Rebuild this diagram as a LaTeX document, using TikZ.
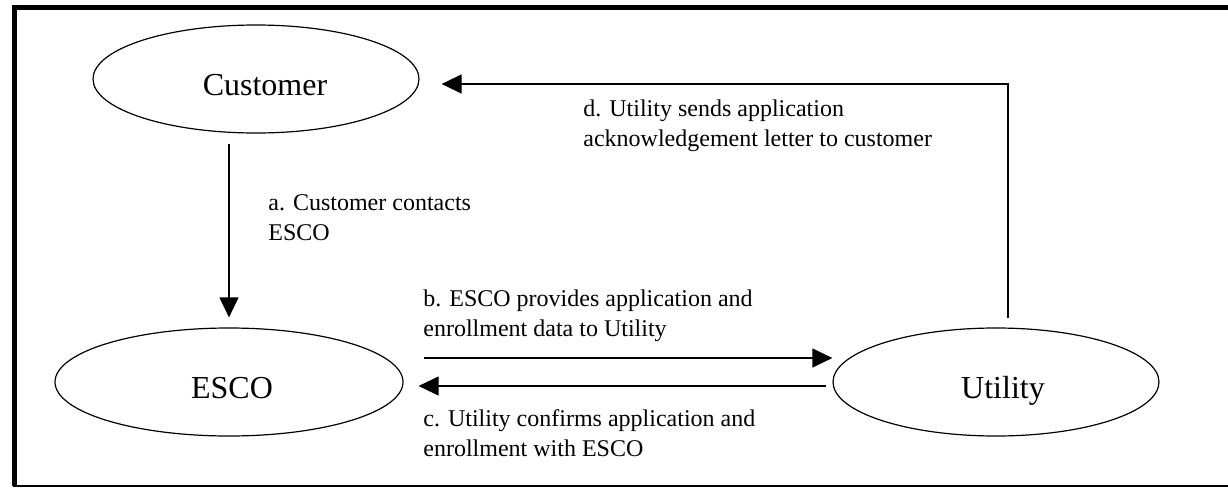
\documentclass[tikz,border=0pt]{standalone}
\usepackage{fontspec}
\setmainfont{Liberation Serif}
\usetikzlibrary{positioning, arrows.meta, shapes.geometric}

\tikzset{
  party/.style={draw, ellipse, line width=0.6pt, inner sep=0pt,
    minimum width=163pt, minimum height=54pt, text height=16pt, text depth=0pt,
    font=\fontsize{16}{19}\selectfont},
  step label/.style={anchor=west, align=left, inner sep=0pt,
    font=\fontsize{12}{15}\selectfont},
  msg/.style={line width=0.6pt, -{Triangle[length=10pt,width=9.5pt]}}
}

\begin{document}
\begin{tikzpicture}[x=0.5pt, y=-0.5pt]
  \useasboundingbox (0,0) rectangle (1228,488);
  % open frame (right side is cut off)
  \draw[line width=2.5pt] (1228,7.5) -- (14.5,7.5) -- (14.5,486);
  \draw[line width=1pt] (13.25,485.5) -- (1228,485.5);

  \node[party] (cust) at (256,79) {\hspace{9pt}Customer};
  \node[party, minimum width=174pt] (esco) at (229,382) {\hspace{3pt}ESCO};
  \node[party] (util) at (996,382) {\hspace{7pt}Utility};

  % a. customer -> ESCO
  \draw[msg, shorten <=5pt, shorten >=5pt] (esco.north |- cust.south) -- (esco.north);
  \node[step label] (la) at (268,218) {a. Customer contacts\\ESCO};

  % b. ESCO -> utility
  \draw[msg] ([shift={(20,-24)}]esco.east) -- ([shift={(0,-24)}]util.west);
  \node[step label] (lb) at (423,316) {b. ESCO provides application and\\enrollment data to Utility};

  % c. utility -> ESCO
  \draw[msg] ([shift={(-6,4)}]util.west) -- ([shift={(15,4)}]esco.east);
  \node[step label] (lc) at (423,433) {c. Utility confirms application and\\enrollment with ESCO};

  % d. utility -> customer
  \draw[msg] ([shift={(12,-9)}]util.north) |- ([shift={(22,5)}]cust.east);
  \node[step label] (ld) at (583,126) {d. Utility sends application\\acknowledgement letter to customer};
\end{tikzpicture}
\end{document}
